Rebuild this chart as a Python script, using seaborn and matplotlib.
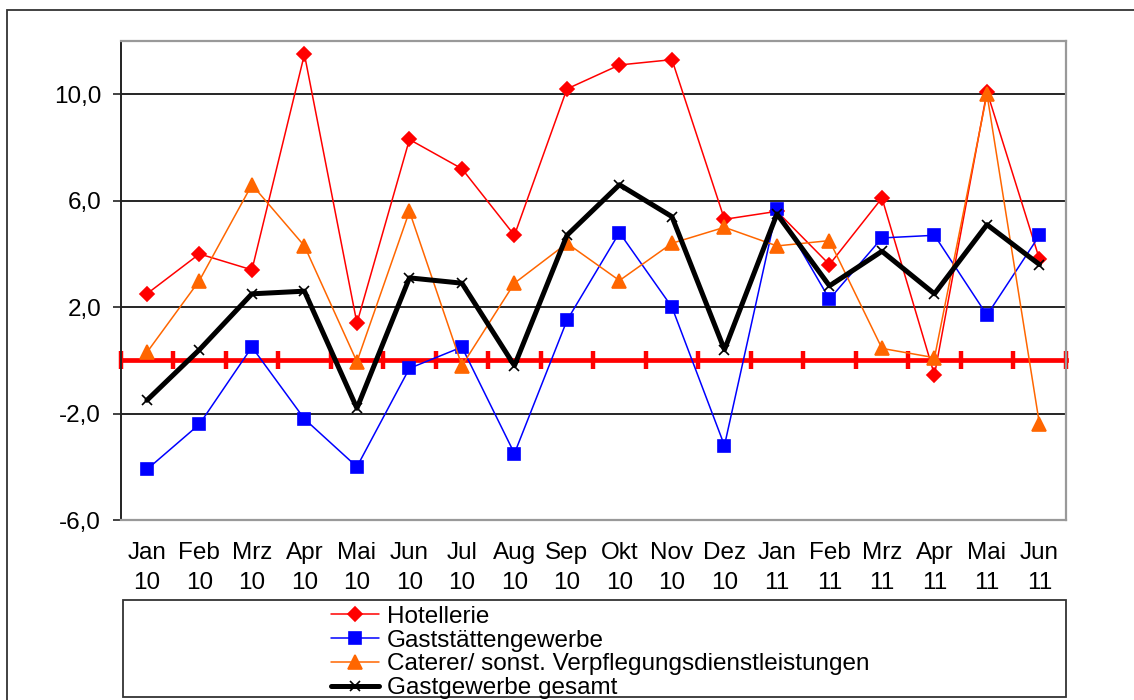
import numpy as np
import matplotlib
matplotlib.use("Agg")
import matplotlib.pyplot as plt
from matplotlib.patches import Rectangle
import seaborn as sns

# Daten: Veraenderung gegenueber Vorjahresmonat in %
monate = ["Jan", "Feb", "Mrz", "Apr", "Mai", "Jun", "Jul", "Aug", "Sep",
          "Okt", "Nov", "Dez", "Jan", "Feb", "Mrz", "Apr", "Mai", "Jun"]
jahre = ["10", "10", "10", "10", "10", "10", "10", "10", "10",
         "10", "10", "10", "11", "11", "11", "11", "11", "11"]

hotellerie = [2.5, 4.0, 3.4, 11.5, 1.4, 8.3, 7.2, 4.7, 10.2,
              11.1, 11.3, 5.3, 5.6, 3.6, 6.1, -0.55, 10.1, 3.8]
gaststaetten = [-4.1, -2.4, 0.5, -2.2, -4.0, -0.3, 0.5, -3.5, 1.5,
                4.8, 2.0, -3.2, 5.7, 2.3, 4.6, 4.7, 1.7, 4.7]
caterer = [0.3, 3.0, 6.6, 4.3, -0.05, 5.6, -0.2, 2.9, 4.4,
           3.0, 4.4, 5.0, 4.3, 4.5, 0.45, 0.1, 10.0, -2.4]
gesamt = [-1.5, 0.4, 2.5, 2.6, -1.8, 3.1, 2.9, -0.2, 4.7,
          6.6, 5.4, 0.4, 5.5, 2.8, 4.1, 2.5, 5.1, 3.6]

namen = ["Hotellerie", "Gaststättengewerbe",
         "Caterer/ sonst. Verpflegungsdienstleistungen", "Gastgewerbe gesamt"]

y_ticks = [-6, -2, 2, 6, 10]
y_labels = ["-6,0", "-2,0", "2,0", "6,0", "10,0"]

# Style
sns.set_theme(style="white")
plt.rcParams["font.family"] = ["Liberation Sans", "DejaVu Sans"]
plt.rcParams["text.color"] = "black"
FS = 17.5

fig = plt.figure(figsize=(11.34, 7.0), dpi=100)
ax = fig.add_axes([0.1064, 0.2571, 0.8334, 0.6843])

x = np.arange(len(monate))

# (werte, farbe, marker, markersize, linienbreite)
serien = [
    (hotellerie, "#FF0000", "D", 7, 1.1),
    (gaststaetten, "#0000FF", "s", 9, 1.1),
    (caterer, "#FF6600", "^", 9.5, 1.1),
    (gesamt, "#000000", "x", 7.5, 3.6),
]
for (werte, farbe, mk, ms, lw), name in zip(serien, namen):
    sns.lineplot(x=x, y=werte, ax=ax, color=farbe, marker=mk, markersize=ms,
                 linewidth=lw, markeredgecolor=farbe, markerfacecolor=farbe,
                 markeredgewidth=1.2, sort=False, errorbar=None, label=name)

handles, labels = ax.get_legend_handles_labels()
if ax.get_legend() is not None:
    ax.get_legend().remove()

ax.set_xlim(-0.5, len(monate) - 0.5)
ax.set_ylim(-6, 12)
ax.set_xlabel("")
ax.set_ylabel("")

# y-Achse mit Gitternetz
ax.set_yticks(y_ticks)
ax.set_yticklabels(y_labels, fontsize=FS)
ax.yaxis.grid(True, color="black", linewidth=1.2)
ax.set_axisbelow(True)
ax.tick_params(axis="y", left=True, direction="out", length=6, width=1.2,
               color="#222222", labelcolor="black", pad=8)

# x-Achse: Monat und Jahr
ax.set_xticks(x)
ax.set_xticklabels([m + "\n" + j for m, j in zip(monate, jahre)],
                   fontsize=FS, linespacing=1.45)
ax.tick_params(axis="x", length=0, pad=16, labelcolor="black")

ax.spines["left"].set_color("#222222")
ax.spines["left"].set_linewidth(1.4)
for s in ["top", "right", "bottom"]:
    ax.spines[s].set_color("#999999")
    ax.spines[s].set_linewidth(1.6)

# rote Nulllinie mit Teilstrichen zwischen den Monaten
sec = ax.secondary_xaxis(0, transform=ax.transData)
sec.set_xticks(np.arange(len(monate) + 1) - 0.5)
sec.tick_params(direction="inout", length=13, width=3.2, color="#FF0000",
                labelbottom=False, labeltop=False)
for s in sec.spines.values():
    s.set_color("#FF0000")
    s.set_linewidth(3.4)

# Rahmen um das Diagramm und um die Legende
fig.patches.append(Rectangle((7 / 1134, -0.05), 1.2, 1 - 10 / 700 + 0.05,
                             transform=fig.transFigure, fill=False,
                             edgecolor="#333333", linewidth=1.3))
fig.patches.append(Rectangle((123 / 1134, 3 / 700), 943 / 1134, 97 / 700,
                             transform=fig.transFigure, fill=False,
                             edgecolor="#333333", linewidth=1.3))

fig.legend(handles, labels, loc="center", bbox_to_anchor=(600 / 1134, 1 - 652.5 / 700),
           frameon=False, fontsize=FS, handlelength=2.0, handletextpad=0.3,
           labelspacing=0.08, borderpad=0, borderaxespad=0)

fig.savefig("out.png", dpi=100)
